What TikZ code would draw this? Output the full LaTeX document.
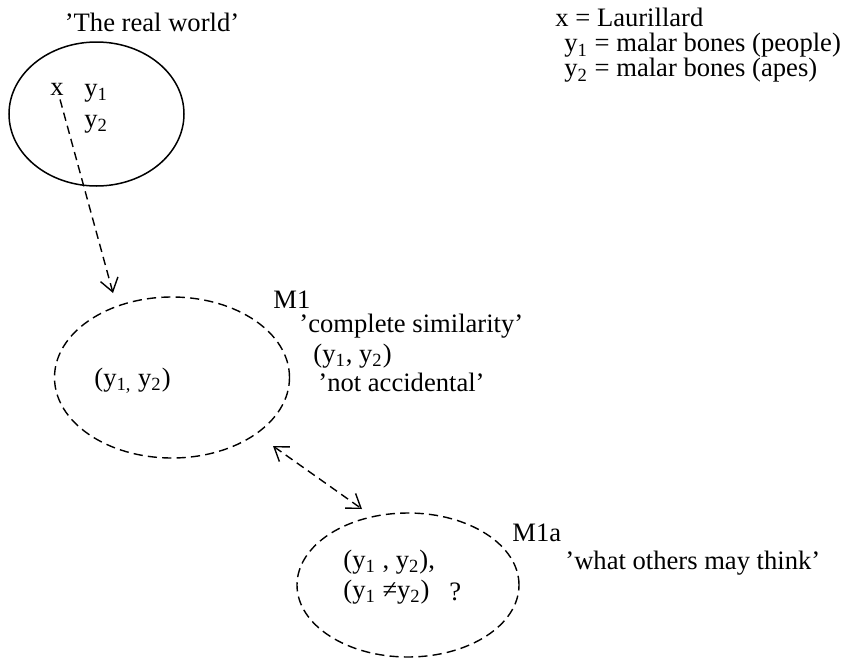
\documentclass[tikz,border=0pt]{standalone}
\usepackage{fontspec}
\setmainfont{Liberation Serif}
\usetikzlibrary{shapes.geometric,arrows.meta}
\tikzset{barb/.tip={Straight Barb[length=6.5pt,width=9pt,line width=0.7pt]}}
\begin{document}
\begin{tikzpicture}[x=0.5pt,y=-0.5pt,
  every node/.style={font=\fontsize{13.3}{15}\selectfont, inner sep=0pt},
  lbl/.style={anchor=west},
  tight/.style={lbl, text height=0.68em, text depth=0.2em},
  world/.style={ellipse, draw, line width=0.75pt},
  model/.style={ellipse, draw, line width=0.7pt, dash pattern=on 4.6pt off 2.6pt},
  conn/.style={line width=0.7pt, dash pattern=on 4.2pt off 2.6pt, -{barb}},
  conn2/.style={conn, {barb}-{barb}}
]
\useasboundingbox (0,0) rectangle (841,659);

% the real world
\node[world, minimum width=87.5pt, minimum height=72pt] (rw) at (96.5,114) {};
\node (rwtitle) at (152,22) {'The real world'};
\node[lbl] (ptx) at (50,89) {x};
\node[lbl] (pty1) at (84,93) {y\textsubscript{1}};
\node[lbl] (pty2) at (84,124) {y\textsubscript{2}};

% legend
\node[tight] (legx) at (555,22) {x = Laurillard};
\node[tight] (legy1) at (564,47) {y\textsubscript{1} = malar bones (people)};
\node[tight] (legy2) at (564,72) {y\textsubscript{2} = malar bones (apes)};

% model M1
\node[model, minimum width=117.5pt, minimum height=80.5pt] (m1) at (172,377.5) {};
\node[lbl] (m1in) at (94,381) {(y\textsubscript{1,} y\textsubscript{2})};
\node[lbl] (m1name) at (273,300) {M1};
\node[lbl] (m1a) at (299,326) {'complete similarity'};
\node[lbl] (m1b) at (313,356) {(y\textsubscript{1}, y\textsubscript{2})};
\node[lbl] (m1c) at (318,382) {'not accidental'};

% model M1a
\node[model, minimum width=111pt, minimum height=72pt] (m2) at (408,585) {};
\node[lbl] (m2in1) at (343,562) {(y\textsubscript{1} , y\textsubscript{2}),};
\node[lbl] (m2in2) at (343,592) {(y\textsubscript{1} ≠y\textsubscript{2})};
\node[lbl] (m2q) at (449,592) {?};
\node[lbl] (m2name) at (512,533) {M1a};
\node[lbl] (m2a) at (565,563) {'what others may think'};

% connector end points just outside the model borders
\coordinate (m1top) at (113,293);
\coordinate (m1end) at (273,446);
\coordinate (m2top) at (362,509);

\draw[conn] (ptx.south) ++(3,4) -- (m1top);
\draw[conn2] (m1end) -- (m2top);
\end{tikzpicture}
\end{document}
